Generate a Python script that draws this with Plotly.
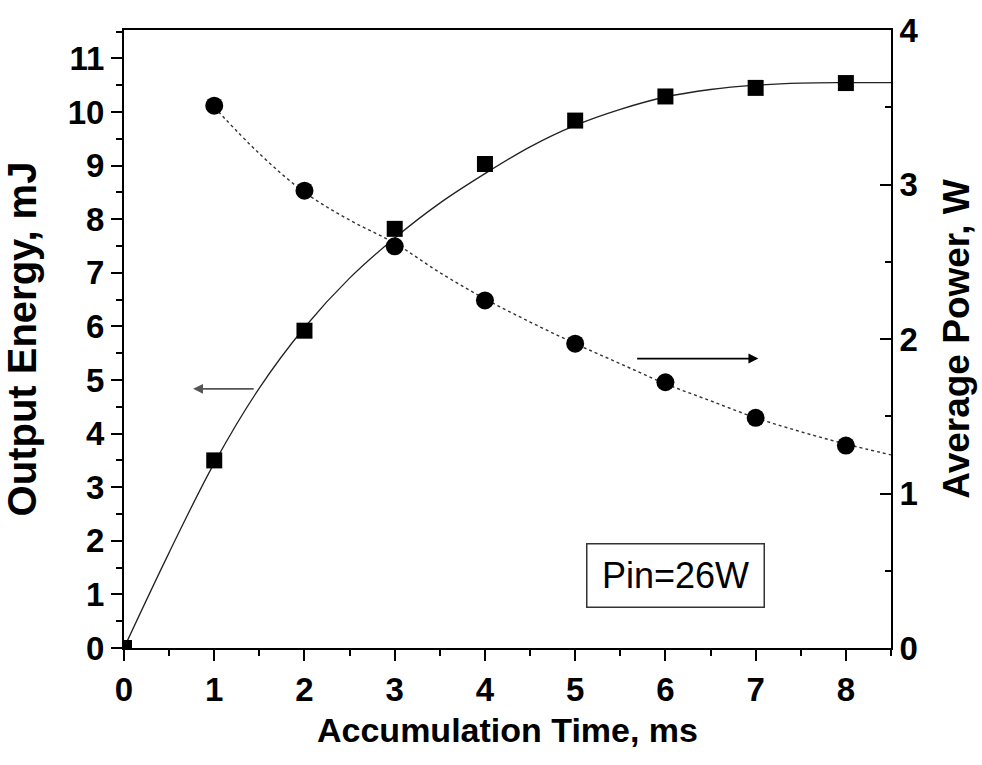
import plotly.graph_objects as go

# measured data
time_ms = [0, 1, 2, 3, 4, 5, 6, 7, 8]
energy_mj = [0.0, 3.50, 5.92, 7.82, 9.03, 9.84, 10.29, 10.45, 10.54]

power_time = [1, 2, 3, 4, 5, 6, 7, 8]
power_w = [3.51, 2.96, 2.60, 2.25, 1.97, 1.72, 1.49, 1.31]

# fitted curves
fit_e_t = [0, 0.5, 1, 1.5, 2, 2.5, 3, 3.5, 4, 4.5, 5, 5.5, 6, 6.5, 7, 7.5, 8, 8.5]
fit_e_v = [0, 1.78, 3.45, 4.85, 5.98, 6.9, 7.65, 8.3, 8.85, 9.35, 9.75, 10.05,
           10.28, 10.42, 10.5, 10.54, 10.55, 10.55]
fit_p_t = [1, 1.5, 2, 2.5, 3, 3.5, 4, 4.5, 5, 5.5, 6, 6.5, 7, 7.5, 8, 8.5]
fit_p_v = [3.50, 3.2, 2.95, 2.77, 2.62, 2.43, 2.26, 2.11, 1.97, 1.84, 1.71, 1.6,
           1.49, 1.40, 1.32, 1.25]

x_ticks = [0, 1, 2, 3, 4, 5, 6, 7, 8]
y_ticks = list(range(0, 12))
y2_ticks = [0, 1, 2, 3, 4]

FONT = "Liberation Sans, Arial, sans-serif"

fig = go.Figure()
fig.add_trace(go.Scatter(x=fit_e_t, y=fit_e_v, mode="lines", line=dict(color="#222", width=1.3, shape="spline"),
                         showlegend=False, hoverinfo="skip"))
fig.add_trace(go.Scatter(x=time_ms, y=energy_mj, mode="markers",
                         marker=dict(symbol="square", size=16, color="black"), showlegend=False))
fig.add_trace(go.Scatter(x=fit_p_t, y=fit_p_v, mode="lines", yaxis="y2",
                         line=dict(color="#333", width=1.4, dash="3px,3px", shape="spline"),
                         showlegend=False, hoverinfo="skip"))
fig.add_trace(go.Scatter(x=power_time, y=power_w, mode="markers", yaxis="y2",
                         marker=dict(symbol="circle", size=18, color="black"), showlegend=False))

axis_common = dict(showline=True, linecolor="black", linewidth=2, showgrid=False, zeroline=False,
                   tickfont=dict(family=FONT, size=33, color="black", weight="bold"),
                   tickcolor="black", tickwidth=2, ticklen=11)

fig.update_layout(
    width=982, height=765,
    margin=dict(l=124, r=91, t=24, b=117),
    plot_bgcolor="white", paper_bgcolor="white",
    xaxis=dict(**axis_common, range=[0, 8.5], tickvals=x_ticks, ticks="outside", mirror=True,
               minor=dict(dtick=0.5, ticks="outside", ticklen=6, tickwidth=2, tickcolor="black"),
               title=dict(text="Accumulation Time, ms", standoff=12,
                          font=dict(family=FONT, size=34, color="black", weight="bold"))),
    yaxis=dict(**axis_common, range=[0, 11.53], tickvals=y_ticks, ticks="outside",
               minor=dict(dtick=0.5, ticks="outside", ticklen=6, tickwidth=2, tickcolor="black"),
               title=dict(text="Output Energy, mJ", standoff=22,
                          font=dict(family=FONT, size=40, color="black", weight="bold"))),
    yaxis2=dict(**axis_common, range=[0, 4], tickvals=y2_ticks, ticks="inside", overlaying="y", side="right",
                minor=dict(dtick=0.5, ticks="inside", ticklen=6, tickwidth=2, tickcolor="black"),
                title=dict(text="Average Power, W", standoff=26,
                           font=dict(family=FONT, size=37, color="black", weight="bold"))),
)

# arrows (data coords on x / y)
arrow_left = dict(tail=(1.454, 4.835), head=(0.766, 4.835))
arrow_right = dict(tail=(5.67, 5.40), head=(7.03, 5.40))
for arr, col in [(arrow_left, "#555"), (arrow_right, "black")]:
    fig.add_annotation(x=arr["head"][0], y=arr["head"][1], ax=arr["tail"][0], ay=arr["tail"][1],
                       xref="x", yref="y", axref="x", ayref="y", text="", showarrow=True,
                       arrowhead=2, arrowsize=1.1, arrowwidth=1.8, arrowcolor=col)

label_pos = (6.11, 1.35)
fig.add_annotation(x=label_pos[0], y=label_pos[1], xref="x", yref="y", text="Pin=26W", showarrow=False,
                   font=dict(family=FONT, size=36, color="black"), width=174, height=60,
                   bordercolor="#333", borderwidth=1.5, borderpad=1, bgcolor="white")

fig.write_html("out.html")
